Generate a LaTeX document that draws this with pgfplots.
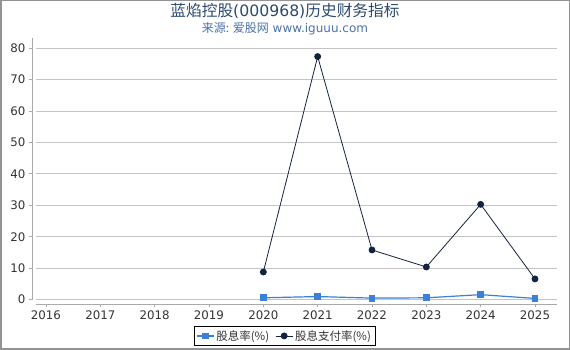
\documentclass[border=0pt]{standalone}
\usepackage{pgfplots}
\pgfplotsset{compat=1.18}
\usepackage{fontspec}
\setmainfont{DejaVu Sans}
\newfontfamily\cjk{Noto Sans CJK SC}
\definecolor{titlec}{HTML}{2B4A6F}
\definecolor{subc}{HTML}{4A72A8}
\definecolor{bluec}{HTML}{3A80D8}
\definecolor{navyc}{HTML}{13233F}
\definecolor{gridc}{HTML}{C4C4C4}
\definecolor{axisc}{HTML}{AAAAAA}
\definecolor{tickc}{HTML}{333333}
\begin{document}
\begin{tikzpicture}
\useasboundingbox (0pt,0pt) rectangle (570pt,350pt);
\draw[gray!85, line width=1.5pt] (0.75pt,0.75pt) rectangle (569.25pt,349.25pt);
\node[text=titlec, font=\fontsize{15.7}{17}\selectfont] at (285pt,339pt) {{\cjk 蓝焰控股}(000968){\cjk 历史财务指标}};
\node[text=subc, font=\fontsize{12}{13}\selectfont] at (285pt,321.5pt) {{\cjk 来源: 爱股网} www.iguuu.com};
\begin{axis}[
  at={(36pt,46pt)}, anchor=south west,
  scale only axis, width=521pt, height=266pt,
  xmin=2015.816, xmax=2025.405,
  ymin=-1.37, ymax=83.2,
  xtick={2016,2017,2018,2019,2020,2021,2022,2023,2024,2025},
  ytick={0,10,20,30,40,50,60,70,80},
  /pgf/number format/1000 sep={},
  /pgf/number format/assume math mode=true,
  ticklabel style={font=\fontsize{11.8}{13}\selectfont, text=tickc},
  yticklabel style={xshift=-4pt},
  ymajorgrids, grid style={gridc, line width=0.8pt},
  axis x line*=bottom, axis y line*=left,
  x axis line style={-, axisc, line width=0.8pt},
  y axis line style={draw=none},
  tick style={axisc, line width=0.8pt},
  ytick style={xshift=-4pt},
  tick align=outside, major tick length=3pt,
  clip=false,
  legend style={at={(0.477,-0.12)}, anchor=center, draw=black, line width=0.6pt,
    font=\cjk\fontsize{11.5}{13}\selectfont, text=tickc, legend columns=2,
    /tikz/every even column/.append style={column sep=4pt}, inner sep=2pt},
  legend cell align=left,
]
\draw[axisc, line width=0.8pt] ([xshift=-4pt]axis cs:2015.816,0) -- ([xshift=-4pt]rel axis cs:0,1);
\addplot[bluec, line width=1.2pt, mark=square*, mark size=2.8pt, mark options={fill=bluec, draw=bluec}]
 coordinates {(2020,0.6) (2021,1.0) (2022,0.5) (2023,0.6) (2024,1.6) (2025,0.4)};
\addlegendentry{股息率(\%)}
\addplot[navyc, line width=0.8pt, mark=*, mark size=3pt, mark options={fill=navyc, draw=navyc}]
 coordinates {(2020,8.8) (2021,77.3) (2022,15.8) (2023,10.4) (2024,30.3) (2025,6.6)};
\addlegendentry{股息支付率(\%)}
\end{axis}
\end{tikzpicture}
\end{document}
